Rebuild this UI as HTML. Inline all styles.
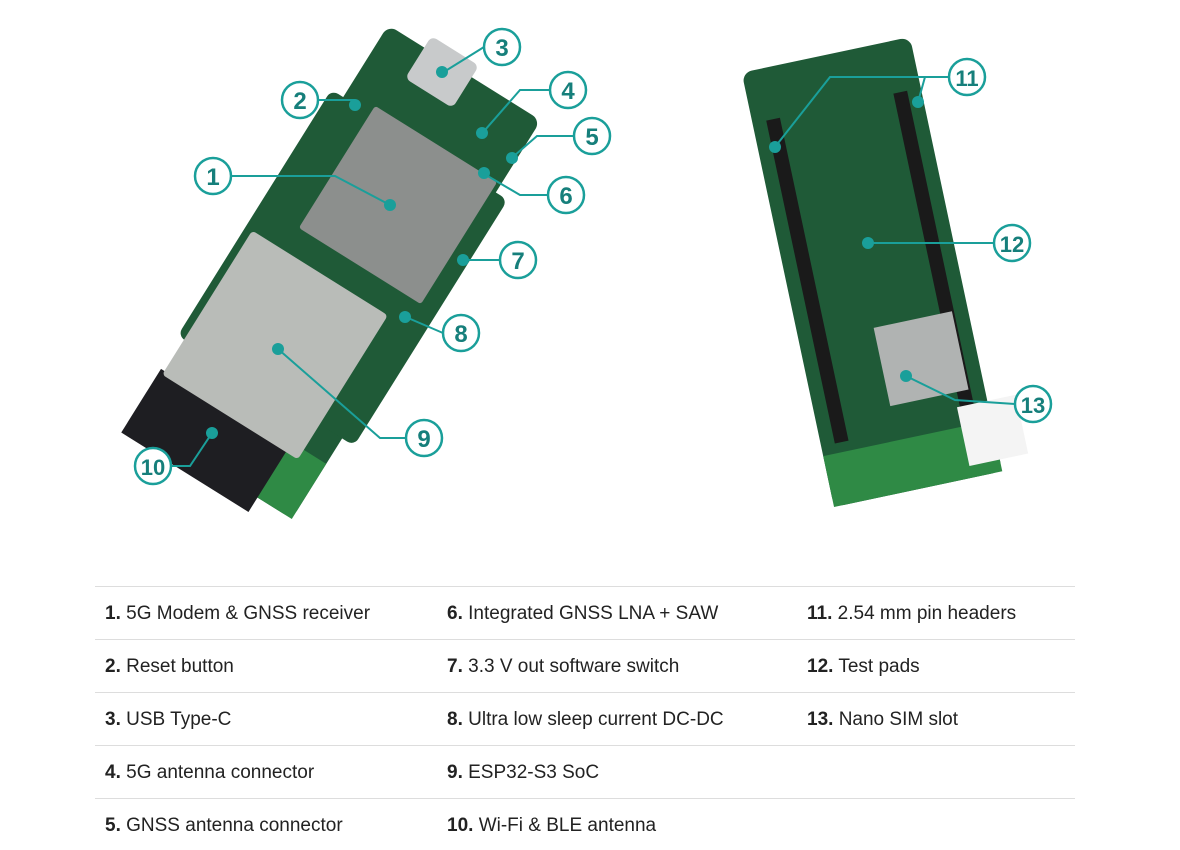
<!DOCTYPE html>
<html><head><style>
body{margin:0;background:#fff;width:1180px;height:850px;overflow:hidden;font-family:"Liberation Sans",sans-serif}
svg{position:absolute;left:0;top:0}
.t{position:absolute;font-size:19px;color:#222}
.hl{position:absolute;left:95px;width:980px;height:1px;background:#ddd}
</style></head><body>
<svg width="1180" height="850">
<!-- left board -->
<g transform="translate(340,272) rotate(32)">
<rect x="-90" y="-235" width="180" height="470" rx="10" fill="#1f5a37"/>
<rect x="-104" y="-150" width="208" height="290" rx="8" fill="#1f5a37"/>
<rect x="-90" y="170" width="180" height="65" fill="#2f8a45"/>
</g>
<rect x="-75" y="-37" width="150" height="75" transform="translate(205,440) rotate(32)" fill="#1e1e22"/>
<rect x="-80" y="-85" width="160" height="170" rx="4" transform="translate(275,345) rotate(32)" fill="#b9bcb8"/>
<rect x="-72" y="-72" width="144" height="144" rx="3" transform="translate(398,205) rotate(32)" fill="#8c8f8d"/>
<rect x="-28" y="-25" width="56" height="50" rx="6" transform="translate(442,72) rotate(32)" fill="#c8cacb"/>
<!-- right board -->
<g transform="translate(872,272) rotate(-12)">
<rect x="-86" y="-222" width="172" height="444" rx="10" fill="#1f5a37"/>
<rect x="-86" y="170" width="172" height="52" fill="#2f8a45"/>
<rect x="-72" y="-170" width="14" height="330" fill="#1a1a1a"/>
<rect x="58" y="-170" width="14" height="330" fill="#1a1a1a"/>
<rect x="-10" y="55" width="80" height="80" fill="#b0b3b2"/>
<rect x="55" y="150" width="60" height="60" fill="#f4f4f4"/>
</g>
<g stroke="#1a9f9a" stroke-width="2" fill="none">
<path d="M231,176 H335 L390,205"/><path d="M318,100 H355"/><path d="M484,47 L447,70"/>
<path d="M550,90 H520 L485,130"/><path d="M574,136 H537 L514,156"/><path d="M548,195 H520 L486,175"/>
<path d="M500,260 H464"/><path d="M443,333 L408,318"/><path d="M406,438 H380 L278,349"/>
<path d="M171,466 H190 L212,433"/><path d="M949,77 H925 L918,102 M949,77 H830 L775,147"/>
<path d="M994,243 H868"/><path d="M1015,404 L955,400 L906,376"/>
</g>
<g fill="#1a9f9a">
<circle cx="390" cy="205" r="6"/><circle cx="355" cy="105" r="6"/><circle cx="442" cy="72" r="6"/>
<circle cx="482" cy="133" r="6"/><circle cx="512" cy="158" r="6"/><circle cx="484" cy="173" r="6"/>
<circle cx="463" cy="260" r="6"/><circle cx="405" cy="317" r="6"/><circle cx="278" cy="349" r="6"/>
<circle cx="212" cy="433" r="6"/><circle cx="918" cy="102" r="6"/><circle cx="775" cy="147" r="6"/>
<circle cx="868" cy="243" r="6"/><circle cx="906" cy="376" r="6"/>
</g>
<g fill="#fff" stroke="#1a9f9a" stroke-width="2.5">
<circle cx="213" cy="176" r="18"/><circle cx="300" cy="100" r="18"/><circle cx="502" cy="47" r="18"/>
<circle cx="568" cy="90" r="18"/><circle cx="592" cy="136" r="18"/><circle cx="566" cy="195" r="18"/>
<circle cx="518" cy="260" r="18"/><circle cx="461" cy="333" r="18"/><circle cx="424" cy="438" r="18"/>
<circle cx="153" cy="466" r="18"/><circle cx="967" cy="77" r="18"/><circle cx="1012" cy="243" r="18"/>
<circle cx="1033" cy="404" r="18"/>
</g>
<g fill="#167f7b" font-family="Liberation Sans" font-size="24" font-weight="bold" text-anchor="middle">
<text x="213" y="185">1</text><text x="300" y="109">2</text><text x="502" y="56">3</text>
<text x="568" y="99">4</text><text x="592" y="145">5</text><text x="566" y="204">6</text>
<text x="518" y="269">7</text><text x="461" y="342">8</text><text x="424" y="447">9</text>
<text x="153" y="475" font-size="22">10</text><text x="967" y="86" font-size="22">11</text>
<text x="1012" y="252" font-size="22">12</text><text x="1033" y="413" font-size="22">13</text>
</g>
</svg>
<div class="hl" style="top:586px"></div><div class="hl" style="top:639px"></div><div class="hl" style="top:692px"></div><div class="hl" style="top:745px"></div><div class="hl" style="top:798px"></div>
<div class="t" style="left:105px;top:603px"><b>1.</b> 5G Modem &amp; GNSS receiver</div>
<div class="t" style="left:105px;top:656px"><b>2.</b> Reset button</div>
<div class="t" style="left:105px;top:709px"><b>3.</b> USB Type-C</div>
<div class="t" style="left:105px;top:762px"><b>4.</b> 5G antenna connector</div>
<div class="t" style="left:105px;top:815px"><b>5.</b> GNSS antenna connector</div>
<div class="t" style="left:447px;top:603px"><b>6.</b> Integrated GNSS LNA + SAW</div>
<div class="t" style="left:447px;top:656px"><b>7.</b> 3.3 V out software switch</div>
<div class="t" style="left:447px;top:709px"><b>8.</b> Ultra low sleep current DC-DC</div>
<div class="t" style="left:447px;top:762px"><b>9.</b> ESP32-S3 SoC</div>
<div class="t" style="left:447px;top:815px"><b>10.</b> Wi-Fi &amp; BLE antenna</div>
<div class="t" style="left:807px;top:603px"><b>11.</b> 2.54 mm pin headers</div>
<div class="t" style="left:807px;top:656px"><b>12.</b> Test pads</div>
<div class="t" style="left:807px;top:709px"><b>13.</b> Nano SIM slot</div>
</body></html>
